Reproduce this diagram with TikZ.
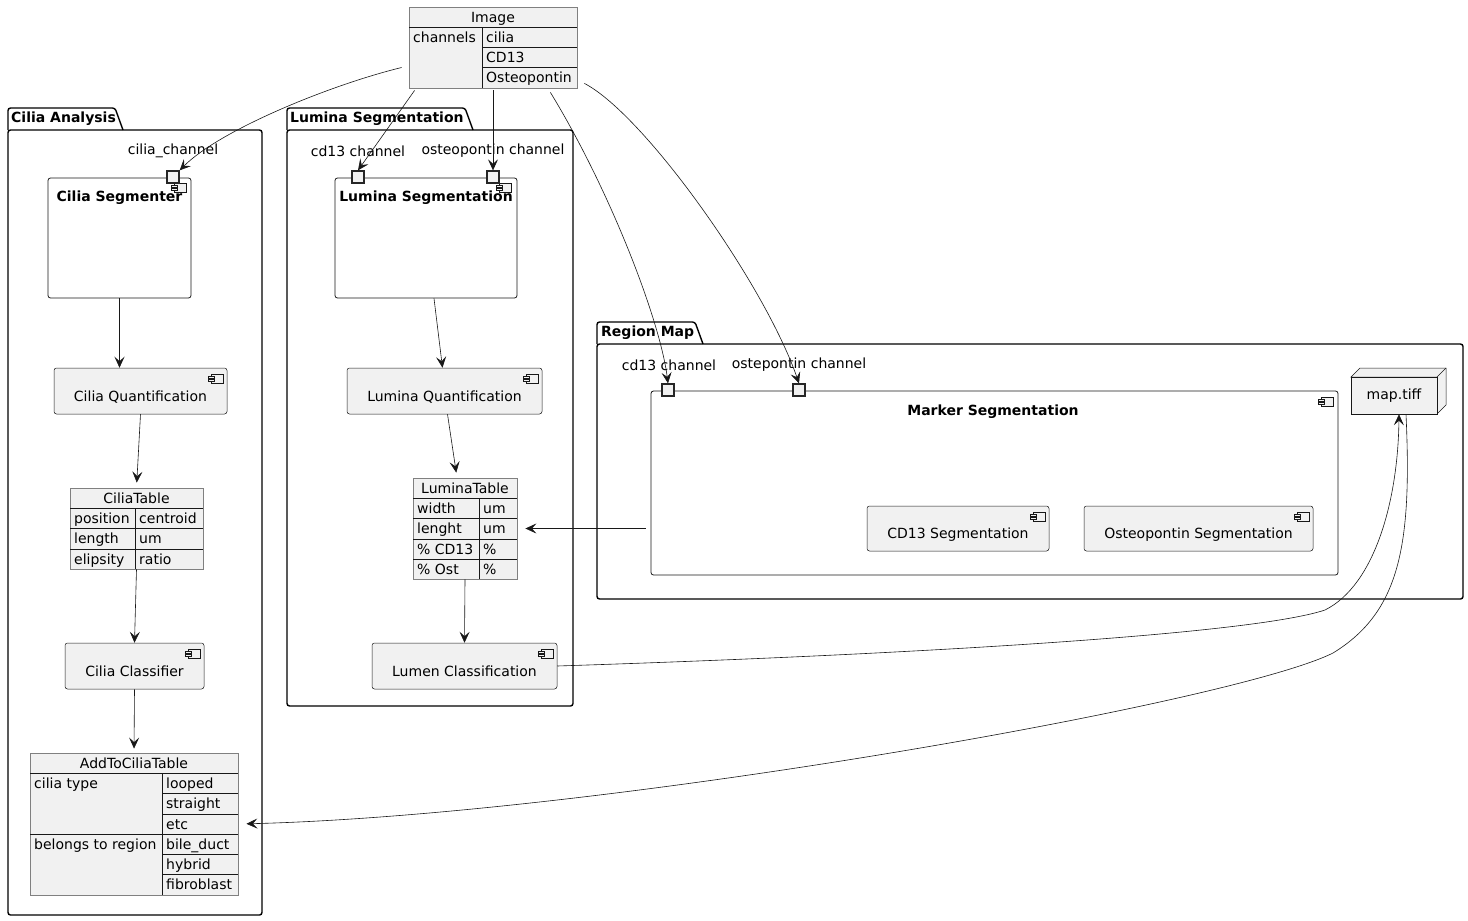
\documentclass[tikz,border=0pt]{standalone}
\usepackage{fontspec}
\setmainfont{DejaVu Sans}
\usetikzlibrary{arrows.meta}
\definecolor{boxfill}{HTML}{F1F1F1}
\definecolor{boxline}{HTML}{181818}
\tikzset{
  pkg/.style={draw=black, line width=1.4pt, rounded corners=2.5pt},
  pkgname/.style={font=\fontsize{14}{17}\selectfont\bfseries, anchor=west, inner sep=0pt},
  comp/.style={draw=boxline, fill=boxfill, line width=0.5pt, rounded corners=2.5pt, minimum height=46pt, text height=22pt, text depth=2pt},
  bigcomp/.style={draw=boxline, fill=white, line width=0.8pt, rounded corners=2.5pt},
  comptitle/.style={font=\fontsize{14}{17}\selectfont\bfseries, inner sep=0pt},
  port/.style={draw=black!85, fill=boxfill, line width=1.3pt, minimum size=12pt, inner sep=0pt},
  portname/.style={inner sep=0pt},
  tbl/.style={draw=gray, fill=boxfill, line width=0.8pt, inner sep=0pt},
  rowline/.style={draw=boxline, line width=0.7pt},
  cell/.style={anchor=west, inner sep=0pt, text height=12pt, text depth=2pt},
  head/.style={inner sep=0pt, text height=12pt, text depth=2pt},
  conn/.style={draw=boxline, line width=0.6pt, -{Stealth[length=11pt,width=10pt,inset=4.5pt]}},
  compicon/.pic={
    \draw[draw=boxline, fill=boxfill, line width=0.5pt] (0,0) rectangle (12,9);
    \draw[draw=boxline, fill=boxfill, line width=0.5pt] (-3,2) rectangle (3,4) (-3,5) rectangle (3,7);
  }
}
\begin{document}
\begin{tikzpicture}[x=1pt, y=-1pt, every node/.style={font=\fontsize{14}{17}\selectfont}]
\useasboundingbox (0,0) rectangle (1468,921);

% packages
\draw[pkg] (8,130) rectangle (262,915);
\draw[pkg] (8,130) |- (115,108) -- (123,130);
\node[pkgname] (pk-cilia) at (11,119) {Cilia Analysis};
\draw[pkg] (287,130) rectangle (573,706);
\draw[pkg] (287,130) |- (465,108) -- (473,130);
\node[pkgname] (pk-lumina) at (290,119) {Lumina Segmentation};
\draw[pkg] (597,344) rectangle (1463,599);
\draw[pkg] (597,344) |- (695,322) -- (703,344);
\node[pkgname] (pk-region) at (601,333) {Region Map};

% image object
\node[tbl, minimum width=168pt, minimum height=81pt] (img) at (493,47.5) {};
\draw[rowline] (409,27) -- (577,27) (482,27) -- (482,88);
\foreach \y in {47,67} \draw[rowline] (482,\y) -- (577,\y);
\node[head] (img-h) at (493,17) {Image};
\node[cell] (img-k) at (413,37) {channels};
\node[cell] (img-v1) at (486,37) {cilia};
\node[cell] (img-v2) at (486,57) {CD13};
\node[cell] (img-v3) at (486,77) {Osteopontin};

% cilia analysis
\node[bigcomp, minimum width=143pt, minimum height=120pt] (cseg) at (119.5,238) {};
\node[comptitle] (cseg-t) at (119.5,198) {Cilia Segmenter};
\pic at (174,183) {compicon};
\node[port] (cseg-p) at (173,177) {};
\node[portname] (cseg-pl) at (173,151) {cilia\_channel};

\node[comp, minimum width=173pt] (cq) at (140.5,391) {Cilia Quantification};
\pic at (211,374) {compicon};

\node[tbl, minimum width=133pt, minimum height=81pt] (ct) at (136.5,528.5) {};
\draw[rowline] (135,508) -- (135,569);
\foreach \y in {508,528,549} \draw[rowline] (70,\y) -- (203,\y);
\node[head] (ct-h) at (136.5,498) {CiliaTable};
\node[cell] (ct-l1) at (74,518) {position};
\node[cell] (ct-l2) at (74,538.5) {length};
\node[cell] (ct-l3) at (74,559) {elipsity};
\node[cell] (ct-v1) at (139,518) {centroid};
\node[cell] (ct-v2) at (139,538.5) {um};
\node[cell] (ct-v3) at (139,559) {ratio};

\node[comp, minimum width=139pt] (ccl) at (134.5,666) {Cilia Classifier};
\pic at (188,649) {compicon};

\node[tbl, minimum width=208pt, minimum height=142pt] (act) at (134,824) {};
\draw[rowline] (30,773) -- (238,773) (30,834) -- (238,834) (162,773) -- (162,895);
\foreach \y in {793,814,854,874} \draw[rowline] (162,\y) -- (238,\y);
\node[head] (act-h) at (134,763) {AddToCiliaTable};
\node[cell] (act-l1) at (34,783) {cilia type};
\node[cell] (act-l2) at (34,844) {belongs to region};
\node[cell] (act-v1) at (166,783) {looped};
\node[cell] (act-v2) at (166,803.5) {straight};
\node[cell] (act-v3) at (166,824) {etc};
\node[cell] (act-v4) at (166,844) {bile\_duct};
\node[cell] (act-v5) at (166,864) {hybrid};
\node[cell] (act-v6) at (166,884.5) {fibroblast};

% lumina segmentation
\node[bigcomp, minimum width=182pt, minimum height=120pt] (lseg) at (426,238) {};
\node[comptitle] (lseg-t) at (426,198) {Lumina Segmentation};
\pic at (499,183) {compicon};
\node[port] (lseg-cd) at (358,177) {};
\node[port] (lseg-op) at (493,177) {};
\node[portname] (lseg-cdl) at (358,151) {cd13 channel};
\node[portname] (lseg-opl) at (493,151) {osteopontin channel};

\node[comp, minimum width=195pt] (lq) at (444.5,391) {Lumina Quantification};
\pic at (526,374) {compicon};

\node[tbl, minimum width=104pt, minimum height=101pt] (lt) at (465,528.5) {};
\draw[rowline] (479,498) -- (479,579);
\foreach \y in {498,518,539,559} \draw[rowline] (413,\y) -- (517,\y);
\node[head] (lt-h) at (465,488) {LuminaTable};
\node[cell] (lt-l1) at (417,508) {width};
\node[cell] (lt-l2) at (417,528.5) {lenght};
\node[cell] (lt-l3) at (417,549) {\% CD13};
\node[cell] (lt-l4) at (417,569) {\% Ost};
\node[cell] (lt-v1) at (483,508) {um};
\node[cell] (lt-v2) at (483,528.5) {um};
\node[cell] (lt-v3) at (483,549) {\%};
\node[cell] (lt-v4) at (483,569) {\%};

\node[comp, minimum width=185pt] (lc) at (464.5,666) {Lumen Classification};
\pic at (541,649) {compicon};

% region map
\node[bigcomp, minimum width=687pt, minimum height=184pt] (mseg) at (994.5,483) {};
\node[comptitle] (mseg-t) at (993,412) {Marker Segmentation};
\pic at (1321,397) {compicon};
\node[port] (mseg-cd) at (668,390) {};
\node[port] (mseg-op) at (799,390) {};
\node[portname] (mseg-cdl) at (669,365) {cd13 channel};
\node[portname] (mseg-opl) at (799,365) {ostepontin channel};

\node[comp, minimum width=182pt, minimum height=45pt] (cds) at (958,528.5) {CD13 Segmentation};
\pic at (1033,512) {compicon};
\node[comp, minimum width=229pt, minimum height=45pt] (ops) at (1198.5,528.5) {Osteopontin Segmentation};
\pic at (1297,512) {compicon};

\draw[draw=boxline, fill=boxfill, line width=0.5pt] (1351,377) -- ++(9,-9) -- (1446,368) -- (1446,405) -- (1437,414) -- (1437,377) -- cycle;
\draw[draw=boxline, line width=0.5pt] (1437,377) -- ++(9,-9);
\node[draw=boxline, fill=boxfill, line width=0.5pt, minimum width=86pt, minimum height=37pt] (map) at (1394,395.5) {map.tiff};

% connectors
\draw[conn] ([xshift=-7pt,yshift=-20pt]img.west) .. controls (330,85) and (220,130) .. (cseg-p.north east);
\draw[conn] ([xshift=6pt,yshift=-2pt]img.south west) -- (lseg-cd.north);
\draw[conn] ([yshift=-2pt]img.south) -- (lseg-op.north);
\draw[conn] ([xshift=-27pt,yshift=-4pt]img.south east) .. controls (610,190) and (660,320) .. (mseg-cd.north);
\draw[conn] ([xshift=7pt,yshift=5pt]img.south east) .. controls (645,115) and (765,285) .. (mseg-op.north);

\draw[conn] (cseg.south) -- (cseg.south |- cq.north);
\draw[conn, shorten >=5pt] (cq.south) -- (ct.north);
\draw[conn] (ct.south) -- (ccl.north);
\draw[conn, shorten >=4pt] (ccl.south) -- (act.north);

\draw[conn] ([xshift=8pt]lseg.south) -- ([xshift=-2pt]lq.north);
\draw[conn, shorten >=5pt] ([xshift=3pt]lq.south) -- ([xshift=-8pt]lt.north);
\draw[conn] (lt.south) -- (lc.north);
\draw[conn, shorten >=8pt] ([xshift=-5pt]mseg.west |- lt-l2) -- (lt.east |- lt-l2);

\draw[conn] (lc.east) .. controls (900,655) and (1250,635) .. (1325,610) .. controls (1375,585) and (1398,500) .. ([xshift=5pt]map.south);
\draw[conn, shorten >=8pt] ([xshift=12pt]map.south) .. controls (1412,545) and (1400,612) .. (1333,653) .. controls (1233,703) and (600,815) .. (act.east |- act-v3);
\end{tikzpicture}
\end{document}
